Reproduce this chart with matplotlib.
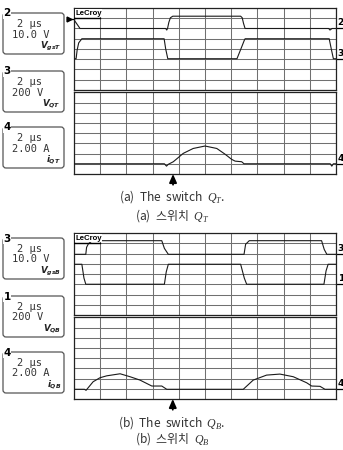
import matplotlib
matplotlib.use('Agg')
import matplotlib.pyplot as plt
from matplotlib.patches import FancyBboxPatch

plt.rcParams['mathtext.fontset'] = 'custom'
plt.rcParams['mathtext.it'] = 'DejaVu Sans:italic:bold'
plt.rcParams['mathtext.cal'] = 'Liberation Serif:italic'
plt.rcParams['mathtext.rm'] = 'DejaVu Sans'

W, H = 343, 450

# ---------------- data (time in divisions, level in divisions) ----------------
# Scope (a): switch Q_T
a_ch2_t = [0, 0.23, 3.50, 3.54, 3.57, 3.62, 3.68, 3.77, 6.36, 6.42, 6.47, 6.53, 9.72, 9.77, 9.85, 10]
a_ch2_v = [6.85, 6.0, 6.0, 5.85, 6.0, 6.6, 7.05, 7.2, 7.2, 7.05, 6.5, 6.0, 6.0, 5.85, 6.0, 6.0]
a_ch3_t = [0, 0.08, 0.12, 0.18, 0.3, 3.44, 3.50, 3.58, 6.22, 6.40, 6.50, 6.53, 9.74, 9.82, 9.90, 10]
a_ch3_v = [3.05, 3.05, 3.9, 4.6, 5.0, 5.0, 4.0, 3.05, 3.05, 4.2, 4.85, 5.0, 5.0, 4.0, 3.05, 3.05]
a_ch4_t = [0, 3.45, 3.53, 3.60, 3.79, 4.17, 4.55, 5.00, 5.45, 5.76, 6.02, 6.15, 6.40, 6.49, 9.78, 9.84, 9.90, 10]
a_ch4_v = [1.0, 1.0, 0.77, 0.95, 1.2, 2.02, 2.5, 2.74, 2.5, 1.95, 1.43, 1.26, 1.2, 1.0, 1.0, 0.77, 1.0, 1.0]
a_arrow_t = 3.78

# Scope (b): switch Q_B
b_ch3_t = [0, 0.45, 0.48, 0.55, 0.70, 3.35, 3.45, 3.60, 6.49, 6.55, 6.69, 9.45, 9.55, 9.65, 10]
b_ch3_v = [5.92, 5.92, 6.6, 6.95, 7.25, 7.25, 6.5, 5.92, 5.92, 6.9, 7.25, 7.25, 6.4, 5.92, 5.92]
b_ch1_t = [0, 0.30, 0.38, 0.45, 3.45, 3.52, 3.60, 6.36, 6.50, 6.59, 9.54, 9.62, 9.70, 10]
b_ch1_v = [4.95, 4.95, 3.6, 3.0, 3.0, 4.2, 4.95, 4.95, 3.6, 3.0, 3.0, 4.3, 4.95, 4.95]
b_ch4_t = [0, 0.40, 0.46, 0.73, 0.99, 1.25, 1.76, 2.14, 2.52, 2.97, 3.35, 3.54, 6.46, 6.84, 7.35, 7.86, 8.37, 8.88, 9.07, 9.39, 9.58, 10]
b_ch4_v = [0.95, 0.95, 0.85, 1.69, 2.08, 2.27, 2.47, 2.18, 1.85, 1.27, 1.27, 0.95, 0.95, 1.85, 2.34, 2.44, 2.18, 1.59, 1.27, 1.24, 0.95, 0.95]
b_arrow_t = 3.77

# box labels
a_boxes = [('2', '2 μs', '10.0 V', r'$V_{gsT}$'),
           ('3', '2 μs', '200 V', r'$V_{QT}$'),
           ('4', '2 μs', '2.00 A', r'$i_{QT}$')]
b_boxes = [('3', '2 μs', '10.0 V', r'$V_{gsB}$'),
           ('1', '2 μs', '200 V', r'$V_{QB}$'),
           ('4', '2 μs', '2.00 A', r'$i_{QB}$')]
a_caps = [r'(a)  The  switch  $\mathcal{Q}_{\mathcal{T}}$.', r'(a)  스위치  $\mathcal{Q}_{\mathcal{T}}$']
b_caps = [r'(b)  The  switch  $\mathcal{Q}_{\mathcal{B}}$.', r'(b)  스위치  $\mathcal{Q}_{\mathcal{B}}$']

# ---------------- figure ----------------
fig = plt.figure(figsize=(W / 100, H / 100), dpi=100)
ov = fig.add_axes([0, 0, 1, 1])
ov.set_xlim(0, W)
ov.set_ylim(H, 0)
ov.axis('off')

GRID_C = '#707070'
TRACE_C = '#1a1a1a'


def grid_ax(x0, y0, x1, y1):
    ax = fig.add_axes([x0 / W, 1 - y1 / H, (x1 - x0) / W, (y1 - y0) / H])
    ax.set_xlim(0, 10)
    ax.set_ylim(0, 8)
    ax.set_xticks(range(11))
    ax.set_yticks(range(9))
    ax.tick_params(length=0, labelbottom=False, labelleft=False)
    ax.grid(True, color=GRID_C, lw=0.75)
    ax.set_axisbelow(True)
    for s in ax.spines.values():
        s.set_color('#222222')
        s.set_linewidth(0.9)
    ax.set_facecolor('none')
    return ax


def marker(ax, label, level):
    ax.plot([10, 10.28], [level, level], color='black', lw=0.9, clip_on=False)
    ax.text(10.06, level + 0.1, label, fontsize=6.5, fontweight='bold',
            ha='left', va='bottom', clip_on=False)


def lecroy(ax):
    ax.text(0.06, 7.5, 'LeCroy', fontsize=5.6, fontweight='bold',
            family='Liberation Sans', ha='left', va='center', zorder=10,
            bbox=dict(facecolor='white', edgecolor='none', pad=0.3))
    ax.plot([0, 1], [7.0, 7.0], color='black', lw=1.0, zorder=11)


def boxes(top, items):
    offs = [5, 63, 119]
    for (ch, l1, l2, lab), off in zip(items, offs):
        y0 = top + off
        p = FancyBboxPatch((3, y0), 61, 41,
                           boxstyle='round,pad=0,rounding_size=3',
                           facecolor='white', edgecolor='#555555', lw=0.9)
        ov.add_patch(p)
        ov.text(7, y0 + 0.5, ch, fontsize=7.5, fontweight='bold', ha='center',
                va='center', bbox=dict(facecolor='white', edgecolor='none', pad=0.2))
        ov.text(17, y0 + 11, l1, fontsize=7.5, family='DejaVu Sans Mono',
                ha='left', va='center', color='#333333')
        ov.text(12, y0 + 21.5, l2, fontsize=7.5, family='DejaVu Sans Mono',
                ha='left', va='center', color='#333333')
        ov.text(61, y0 + 33, lab, fontsize=6.3, ha='right', va='center',
                color='#222222')


def scope(top, up_traces, low_trace, arrow_t, markers_up, marker_low, items, caps, cap_y):
    up = grid_ax(74, top, 336, top + 82)
    lo = grid_ax(74, top + 84.3, 336, top + 166)
    for t, v in up_traces:
        up.plot(t, v, color=TRACE_C, lw=0.8, zorder=3)
    lo.plot(low_trace[0], low_trace[1], color=TRACE_C, lw=0.8, zorder=3)
    lecroy(up)
    for lab, lev in markers_up:
        marker(up, lab, lev)
    marker(lo, marker_low[0], marker_low[1])
    lo.annotate('', xy=(arrow_t, 0.0), xytext=(arrow_t, -1.05),
                arrowprops=dict(arrowstyle='-|>,head_length=0.5,head_width=0.22',
                                color='black', lw=1.3, shrinkA=0, shrinkB=0),
                annotation_clip=False)
    boxes(top, items)
    ov.text(172, cap_y[0], caps[0], fontsize=8.6, family='Noto Sans CJK KR',
            ha='center', va='center', color='#333333')
    ov.text(172, cap_y[1], caps[1], fontsize=8.6, family='Noto Sans CJK KR',
            ha='center', va='center', color='#333333')
    return up, lo


up_a, lo_a = scope(8, [(a_ch2_t, a_ch2_v), (a_ch3_t, a_ch3_v)], (a_ch4_t, a_ch4_v),
                   a_arrow_t, [('2', 6.0), ('3', 3.05)], ('4', 1.0),
                   a_boxes, a_caps, (197, 216))
# trigger marker on the left of scope (a)
up_a.plot([-0.2], [6.93], marker='>', ms=3.5, color='black', clip_on=False)
up_a.plot([-0.25, 0], [6.93, 6.93], color='black', lw=0.9, clip_on=False)

up_b, lo_b = scope(233, [(b_ch3_t, b_ch3_v), (b_ch1_t, b_ch1_v)], (b_ch4_t, b_ch4_v),
                   b_arrow_t, [('3', 5.92), ('1', 3.0)], ('4', 0.95),
                   b_boxes, b_caps, (423, 439))

fig.savefig('out.png', dpi=100)
